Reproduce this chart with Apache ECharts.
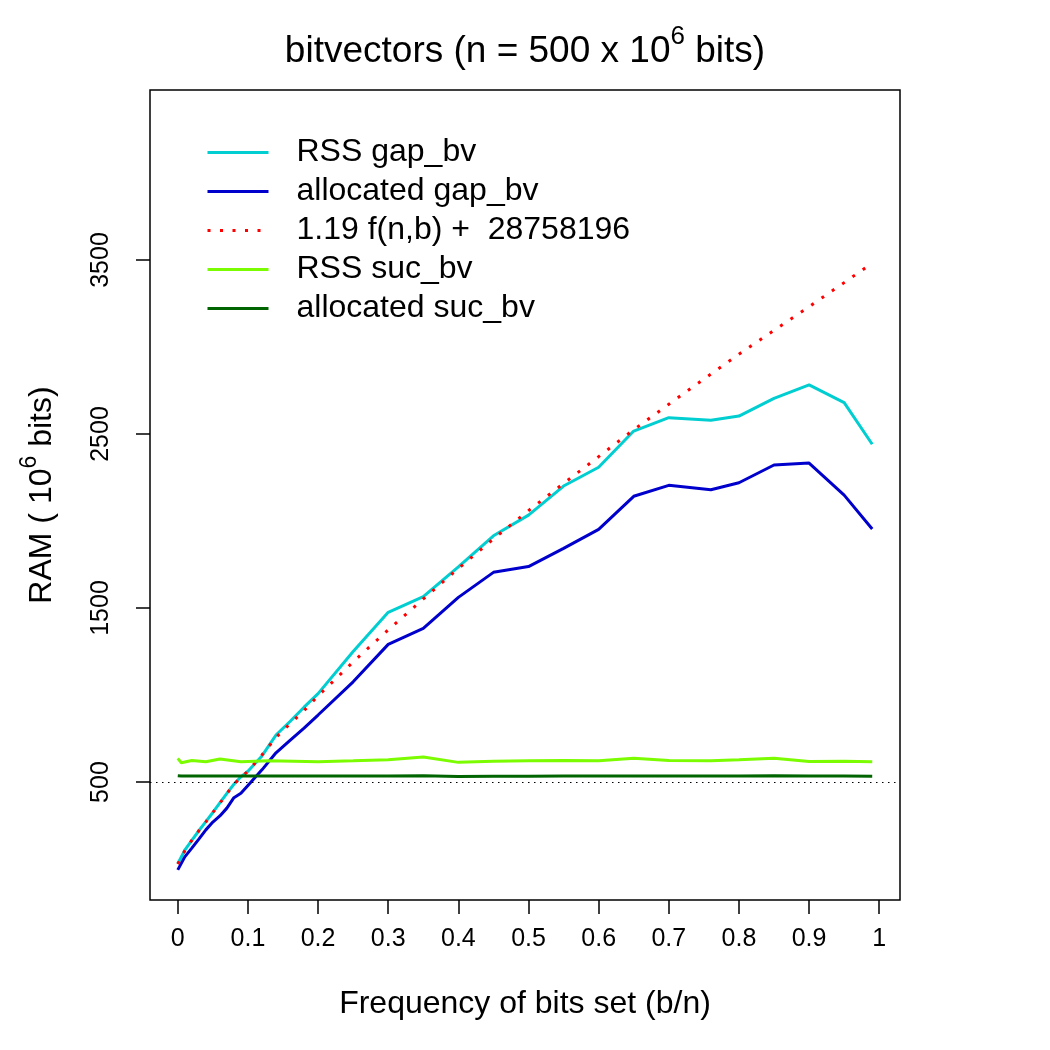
<!DOCTYPE html>
<html>
<head>
<meta charset="utf-8">
<script src="https://cdn.jsdelivr.net/npm/echarts@6/dist/echarts.min.js"></script>
<style>
  html, body { margin: 0; padding: 0; background: #fff; }
  #chart { width: 1050px; height: 1050px; }
</style>
</head>
<body>
<div id="chart"></div>
<script>
// frequency of bits set (b/n) for the gap_bv measurements
const xGap = [0, 0.01, 0.02, 0.03, 0.04, 0.05, 0.06, 0.07, 0.08, 0.09, 0.10, 0.12, 0.14, 0.16, 0.18, 0.20,
  0.25, 0.30, 0.35, 0.40, 0.45, 0.50, 0.55, 0.60, 0.65, 0.70, 0.76, 0.80, 0.85, 0.90, 0.95, 0.99];
const rssGap = [30, 108, 165, 220, 272, 325, 380, 435, 487, 530, 562, 650, 770, 848, 930, 1008,
  1250, 1475, 1565, 1737, 1915, 2034, 2201, 2309, 2517, 2594, 2579, 2603, 2705, 2782, 2680, 2441];
const allocGap = [-5, 70, 120, 172, 225, 270, 305, 350, 410, 435, 480, 570, 668, 740, 810, 885,
  1076, 1291, 1383, 1561, 1705, 1738, 1843, 1952, 2142, 2205, 2180, 2220, 2322, 2333, 2149, 1954];

// fitted model 1.19 f(n,b) + 28758196
const xFit = [0, 0.01, 0.02, 0.03, 0.04, 0.05, 0.06, 0.07, 0.08, 0.09, 0.10, 0.12, 0.14, 0.16, 0.18, 0.20,
  0.25, 0.30, 0.35, 0.40, 0.45, 0.50, 0.55, 0.60, 0.65, 0.70, 0.75, 0.80, 0.85, 0.90, 0.95, 0.98];
const fitVals = [29, 105, 165, 220, 271, 325, 378, 433, 487, 527, 562, 656, 756, 835, 910, 995,
  1190, 1375, 1552, 1727, 1897, 2060, 2216, 2370, 2525, 2671, 2816, 2959, 3096, 3232, 3370, 3454];

// suc_bv measurements
const xSuc = [0, 0.005, 0.02, 0.04, 0.06, 0.09, 0.13, 0.20, 0.25, 0.30, 0.35, 0.40, 0.45, 0.50,
  0.55, 0.60, 0.65, 0.70, 0.76, 0.80, 0.85, 0.90, 0.95, 0.99];
const rssSuc = [636, 611, 624, 616, 632, 617, 622, 617, 622, 628, 644, 613, 620, 622,
  624, 622, 636, 624, 622, 628, 637, 618, 620, 617];
const allocSuc = [536, 534, 535, 535, 535, 535, 534, 534, 534, 535, 536, 532, 533, 533,
  534, 534, 535, 534, 534, 535, 536, 534, 534, 533];

const refLevel = 500;
const xTicks = [0, 0.1, 0.2, 0.3, 0.4, 0.5, 0.6, 0.7, 0.8, 0.9, 1];
const yTicks = [500, 1500, 2500, 3500];

const names = ['RSS gap_bv', 'allocated gap_bv', '1.19 f(n,b) +  28758196', 'RSS suc_bv', 'allocated suc_bv'];
const colors = ['#00CED1', '#0000CD', '#FF0000', '#7CFC00', '#006400'];

const pairs = (xs, ys) => xs.map((x, i) => [x, ys[i]]);

const FONT = 'Liberation Sans';
const chart = echarts.init(document.getElementById('chart'), null, { renderer: 'canvas' });

const lineSeries = (name, color, data, extra) => Object.assign({
  name: name,
  type: 'line',
  data: data,
  showSymbol: false,
  symbol: 'none',
  smooth: false,
  lineStyle: { color: color, width: 3 },
  itemStyle: { color: color }
}, extra || {});

const option = {
  animation: false,
  backgroundColor: '#fff',
  textStyle: { fontFamily: FONT, color: '#000' },
  title: {
    text: '{a|bitvectors (n = 500 x 10}{s|6}{a| bits)}',
    left: 'center',
    top: 19,
    textStyle: {
      fontWeight: 'normal',
      rich: {
        a: { fontFamily: FONT, fontSize: 37, fontWeight: 'normal', color: '#000', lineHeight: 46, verticalAlign: 'bottom' },
        s: { fontFamily: FONT, fontSize: 26, fontWeight: 'normal', color: '#000', lineHeight: 46, verticalAlign: 'top' }
      }
    }
  },
  legend: {
    orient: 'vertical',
    left: 201,
    top: 131,
    itemWidth: 61,
    itemHeight: 14,
    itemGap: 6,
    data: names,
    itemStyle: { opacity: 0 },
    lineStyle: { width: 3 },
    textStyle: { fontFamily: FONT, fontSize: 32, color: '#000', lineHeight: 33, padding: [0, 0, 0, 23] }
  },
  grid: {
    left: 150,
    top: 90,
    right: 150,
    bottom: 150,
    show: true,
    borderColor: '#000',
    borderWidth: 1.5,
    containLabel: false
  },
  xAxis: {
    type: 'value',
    min: -0.0396,
    max: 1.0296,
    name: 'Frequency of bits set (b/n)',
    nameLocation: 'middle',
    nameGap: 88,
    nameTextStyle: { fontFamily: FONT, fontSize: 32, color: '#000' },
    axisLine: { show: false, onZero: false },
    splitLine: { show: false },
    axisTick: { show: true, inside: false, length: 14, customValues: xTicks, lineStyle: { color: '#000', width: 1.5 } },
    axisLabel: {
      customValues: xTicks,
      fontFamily: FONT, fontSize: 25, color: '#000', margin: 27,
      formatter: v => String(+Number(v).toFixed(1))
    }
  },
  yAxis: {
    type: 'value',
    min: -178,
    max: 4477,
    name: '{a|RAM ( 10}{s|6}{a| bits)}',
    nameLocation: 'middle',
    nameRotate: 90,
    nameGap: 92,
    nameTextStyle: {
      rich: {
        a: { fontFamily: FONT, fontSize: 32, color: '#000', lineHeight: 40, verticalAlign: 'bottom' },
        s: { fontFamily: FONT, fontSize: 23, color: '#000', lineHeight: 40, verticalAlign: 'top' }
      }
    },
    axisLine: { show: false, onZero: false },
    splitLine: { show: false },
    axisTick: { show: true, inside: false, length: 14, customValues: yTicks, lineStyle: { color: '#000', width: 1.5 } },
    axisLabel: {
      customValues: yTicks,
      rotate: 90,
      fontFamily: FONT, fontSize: 25, color: '#000', margin: 36,
      formatter: v => String(Math.round(v))
    }
  },
  series: [
    lineSeries(names[0], colors[0], pairs(xGap, rssGap)),
    lineSeries(names[1], colors[1], pairs(xGap, allocGap)),
    lineSeries(names[2], colors[2], pairs(xFit, fitVals), {
      lineStyle: { color: colors[2], width: 3, type: [3, 9.5] }
    }),
    lineSeries(names[3], colors[3], pairs(xSuc, rssSuc)),
    lineSeries(names[4], colors[4], pairs(xSuc, allocSuc), {
      markLine: {
        silent: true,
        symbol: 'none',
        label: { show: false },
        lineStyle: { color: '#000', width: 1, type: [1.5, 4.5] },
        data: [{ yAxis: refLevel }]
      }
    })
  ]
};

chart.setOption(option);
</script>
</body>
</html>
